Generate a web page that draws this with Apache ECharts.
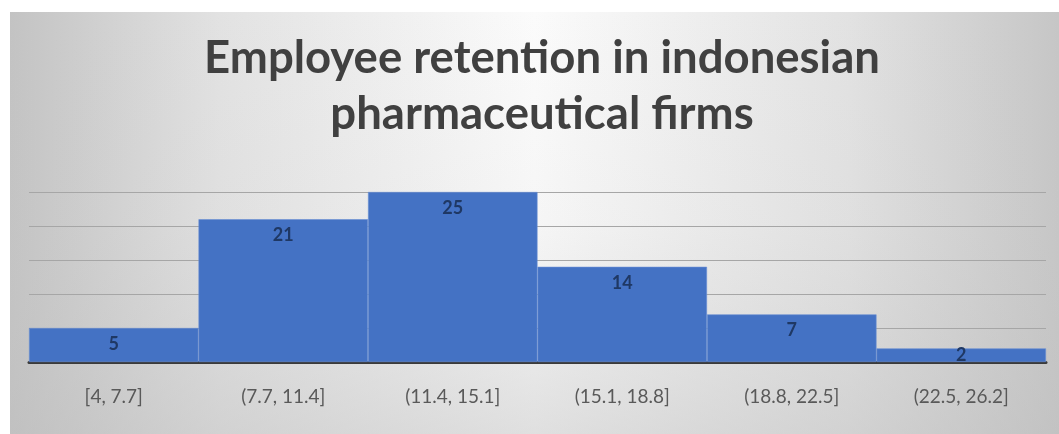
<!DOCTYPE html>
<html>
<head>
<meta charset="utf-8">
<script src="https://cdn.jsdelivr.net/npm/echarts@6/dist/echarts.min.js"></script>
<style>
html,body{margin:0;padding:0;background:#ffffff;}
#chart{width:1059px;height:434px;}
</style>
</head>
<body>
<div id="chart"></div>
<script>
const titleText = "Employee retention in indonesian\npharmaceutical firms";
const categories = ["[4, 7.7]", "(7.7, 11.4]", "(11.4, 15.1]", "(15.1, 18.8]", "(18.8, 22.5]", "(22.5, 26.2]"];
const counts = [5, 21, 25, 14, 7, 2];
const yTicks = [0, 5, 10, 15, 20, 25];

const chart = echarts.init(document.getElementById('chart'), null, {renderer: 'canvas'});

const seriesData = counts.map(v => v < 4
  ? {value: v, label: {position: 'inside'}}
  : v);

chart.setOption({
  backgroundColor: '#ffffff',
  animation: false,
  graphic: [{
    type: 'rect',
    z: -10,
    silent: true,
    shape: {x: 10, y: 12, width: 1049, height: 422},
    style: {
      fill: {
        type: 'linear', x: 0, y: 0, x2: 1, y2: 0,
        colorStops: [
          {offset: 0, color: '#c3c3c3'},
          {offset: 0.2, color: '#e2e2e2'},
          {offset: 0.5, color: '#fbfbfb'},
          {offset: 0.8, color: '#e2e2e2'},
          {offset: 1, color: '#c6c6c6'}
        ]
      }
    }
  }, {
    type: 'rect',
    z: -9,
    silent: true,
    shape: {x: 10, y: 12, width: 1049, height: 422},
    style: {
      fill: {
        type: 'linear', x: 0, y: 0, x2: 0, y2: 1,
        colorStops: [
          {offset: 0, color: 'rgba(200,200,200,0)'},
          {offset: 0.5, color: 'rgba(200,200,200,0.1)'},
          {offset: 1, color: 'rgba(190,190,190,0.45)'}
        ]
      }
    }
  }, {
    type: 'text',
    z: 10,
    silent: true,
    x: 542,
    y: 30,
    style: {
      text: titleText,
      textAlign: 'center',
      textVerticalAlign: 'top',
      fontFamily: 'Lato',
      fontWeight: 'bold',
      fontSize: 45.5,
      lineHeight: 56,
      fill: '#404040'
    }
  }],
  grid: {left: 29, right: 13, top: 192, bottom: 72, containLabel: false},
  xAxis: {
    type: 'category',
    data: categories,
    axisLine: {show: true, lineStyle: {color: '#3a3a3a', width: 3}},
    axisTick: {show: false},
    axisLabel: {
      color: '#595959',
      fontFamily: 'Lato',
      fontSize: 19,
      margin: 25
    }
  },
  yAxis: {
    type: 'value',
    min: yTicks[0],
    max: yTicks[yTicks.length - 1],
    interval: yTicks[1] - yTicks[0],
    axisLabel: {show: false},
    axisLine: {show: false},
    axisTick: {show: false},
    splitLine: {show: true, lineStyle: {color: '#a6a6a6', width: 1.2}}
  },
  series: [{
    type: 'bar',
    data: seriesData,
    barCategoryGap: '0%',
    itemStyle: {color: '#4472c4', borderColor: '#6a8fd3', borderWidth: 0.6},
    label: {
      show: true,
      position: 'insideTop',
      distance: 7,
      color: '#1f3864',
      fontFamily: 'Lato',
      fontWeight: 'bold',
      fontSize: 18
    }
  }]
});
</script>
</body>
</html>
